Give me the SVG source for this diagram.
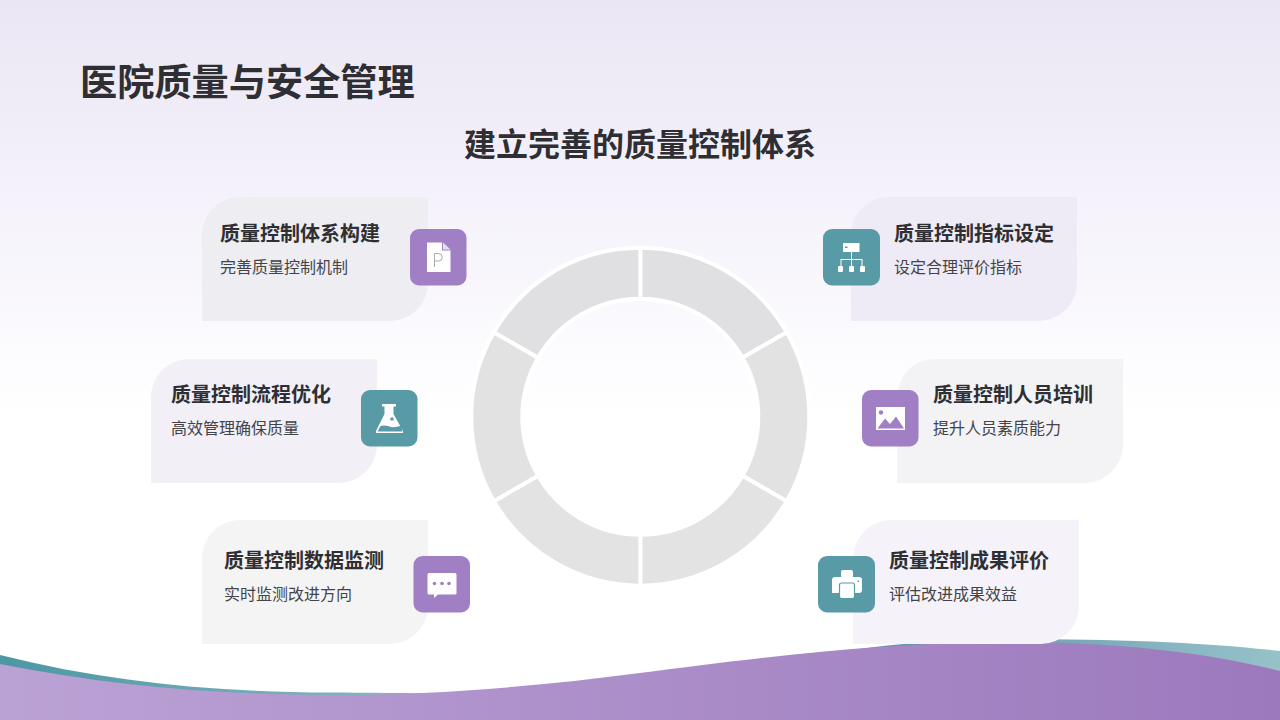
<svg xmlns="http://www.w3.org/2000/svg" width="1280" height="720" viewBox="0 0 1280 720">
<style>
text{font-family:"Noto Sans CJK SC","Liberation Sans",sans-serif;fill:#2f2f33}
.h{font-size:20px;font-weight:700}
.s{font-size:16px;fill:#444448}
.p{fill:#a07fc4}.t{fill:#589aa5}
.w{fill:#fff}
.seg{stroke:#fff;stroke-width:4}
</style>
<defs>
<linearGradient id="bg" x1="0" y1="0" x2="0" y2="1"><stop offset="0" stop-color="#ebe6f3"/><stop offset=".28" stop-color="#f5f2fb"/><stop offset=".58" stop-color="#fff"/><stop offset="1" stop-color="#fff"/></linearGradient>
<linearGradient id="wp" x1="0" y1="0" x2="1" y2="0"><stop offset="0" stop-color="#bba2d5"/><stop offset="1" stop-color="#9c79bd"/></linearGradient>
<linearGradient id="wt" x1="0" y1="0" x2="1" y2="0"><stop offset="0" stop-color="#4c97a4"/><stop offset=".3" stop-color="#84b4bf"/><stop offset=".68" stop-color="#5e8fa8"/><stop offset="1" stop-color="#96c2c9"/></linearGradient>
</defs>
<rect width="1280" height="720" fill="url(#bg)"/>
<g id="wave">
<path d="M0 655C110 683 220 692 330 692.500C400 693 430 693 470 695L640 700L800 680L850 650C900 643.500 950 639 1007 639C1110 639 1200 642 1280 651V720H0Z" fill="url(#wt)"/>
<path d="M0 664C110 686 220 695 330 695C440 695 540 686 640 673C740 660 880 642 1007 642C1110 642 1200 651 1280 671V720H0Z" fill="url(#wp)"/>
</g>
<g id="connectors"></g>
<text x="80" y="96" style="font-size:37.200px;font-weight:700">医院质量与安全管理</text>
<text x="640" y="156" text-anchor="middle" style="font-size:32px;font-weight:700">建立完善的质量控制体系</text>
<g id="ring" class="seg">
<path fill="#e0e0e2" d="M640.300 247.700A169 169 0 0 1 786.700 332.200L742.500 357.700A118 118 0 0 0 640.300 298.700Z"/>
<path fill="#e2e2e3" d="M786.700 332.200A169 169 0 0 1 786.700 501.200L742.500 475.700A118 118 0 0 0 742.500 357.700Z"/>
<path fill="#e3e3e3" d="M786.700 501.200A169 169 0 0 1 640.300 585.700V534.700A118 118 0 0 0 742.500 475.700Z"/>
<path fill="#e3e3e3" d="M640.300 585.700A169 169 0 0 1 493.900 501.200L538.100 475.700A118 118 0 0 0 640.300 534.700Z"/>
<path fill="#e2e2e3" d="M493.900 501.200A169 169 0 0 1 493.900 332.200L538.100 357.700A118 118 0 0 0 538.100 475.700Z"/>
<path fill="#e0e0e2" d="M493.900 332.200A169 169 0 0 1 640.300 247.700V298.700A118 118 0 0 0 538.100 357.700Z"/>
</g>
<g id="node-1">
<path d="M240 197H428V283A38 38 0 0 1 390 321H202V235A38 38 0 0 1 240 197Z" fill="#eeedf2"/>
<text class="h" x="220" y="241">质量控制体系构建</text>
<text class="s" x="220" y="273">完善质量控制机制</text>
<rect class="p" x="410" y="229" width="56.500" height="56.500" rx="9"/>
<path class="w" d="M427 242.500H442V250.500H450.500V272H427Z"/>
<path d="M443 242.500L450.500 249.500H443Z" fill="#e6dff0"/>
<path d="M434.500 267V253.500H438.500A3.700 3.700 0 0 1 438.500 261H434.500" fill="none" stroke="#a9a9ad" stroke-width="1"/>
</g>
<g id="node-2">
<path d="M889 197H1077V283A38 38 0 0 1 1039 321H851V235A38 38 0 0 1 889 197Z" fill="#efebf6"/>
<text class="h" x="894" y="241">质量控制指标设定</text>
<text class="s" x="894" y="273">设定合理评价指标</text>
<rect class="t" x="823" y="229" width="57" height="56.500" rx="9"/>
<path class="w" d="M843 243H859.500V252H843ZM851 252H852V259H862.500V266H861.500V260H852V266H851V260H841.500V266H840.500V259H851Z"/>
<path class="w" d="M838 267a1 1 0 0 1 1-1h3a1 1 0 0 1 1 1v4a1 1 0 0 1-1 1h-3a1 1 0 0 1-1-1ZM849 267a1 1 0 0 1 1-1h3a1 1 0 0 1 1 1v4a1 1 0 0 1-1 1h-3a1 1 0 0 1-1-1ZM860 267a1 1 0 0 1 1-1h3a1 1 0 0 1 1 1v4a1 1 0 0 1-1 1h-3a1 1 0 0 1-1-1Z"/>
<rect class="t" x="845" y="246.500" width="2.500" height="1.500"/>
</g>
<g id="node-3">
<path d="M189 359H377V445A38 38 0 0 1 339 483H151V397A38 38 0 0 1 189 359Z" fill="#f2eff7"/>
<text class="h" x="171" y="402">质量控制流程优化</text>
<text class="s" x="171" y="434">高效管理确保质量</text>
<rect class="t" x="361" y="390" width="56.500" height="56.500" rx="9"/>
<path class="w" d="M382 404H396V406.500H393.500V414L403 431V433H376V431L384.500 414V406.500H382Z"/>
<path class="t" d="M377.500 431.500L380.500 426C386 424 390 428 395 427C398 426.500 400 426 401 426L402.500 431.500Z"/>
<circle class="t" cx="392" cy="419" r="1.800"/>
</g>
<g id="node-4">
<path d="M935 359H1123V445A38 38 0 0 1 1085 483H897V397A38 38 0 0 1 935 359Z" fill="#f3f3f5"/>
<text class="h" x="933" y="402">质量控制人员培训</text>
<text class="s" x="933" y="434">提升人员素质能力</text>
<rect class="p" x="862" y="390" width="56.500" height="56.500" rx="9"/>
<rect class="w" x="876" y="407" width="29" height="23"/>
<circle class="p" cx="881" cy="412.500" r="2.200"/>
<path class="p" d="M877.500 428.500L885 418.500L890 424L896 416.500L904 428.500Z"/>
</g>
<g id="node-5">
<path d="M240 520H428V606A38 38 0 0 1 390 644H202V558A38 38 0 0 1 240 520Z" fill="#f4f4f5"/>
<text class="h" x="224" y="568">质量控制数据监测</text>
<text class="s" x="224" y="600">实时监测改进方向</text>
<rect class="p" x="413.500" y="556" width="56.500" height="56.500" rx="9"/>
<path class="w" d="M429 573H455A1.500 1.500 0 0 1 456.500 574.500V593A1.500 1.500 0 0 1 455 594.500H438L434 598V594.500H429A1.500 1.500 0 0 1 427.500 593V574.500A1.500 1.500 0 0 1 429 573Z"/>
<circle class="p" cx="434.500" cy="583.500" r="1.800"/><circle class="p" cx="442" cy="583.500" r="1.800"/><circle class="p" cx="449" cy="583.500" r="1.800"/>
</g>
<g id="node-6">
<path d="M891 520H1079V606A38 38 0 0 1 1041 644H853V558A38 38 0 0 1 891 520Z" fill="#f5f3f9"/>
<text class="h" x="889" y="568">质量控制成果评价</text>
<text class="s" x="889" y="600">评估改进成果效益</text>
<rect class="t" x="818" y="556" width="57" height="56.500" rx="9"/>
<rect class="w" x="841" y="570" width="12" height="8" rx="2"/>
<path class="w" d="M835 577H859A3 3 0 0 1 862 580V590A3 3 0 0 1 859 593H832V580A3 3 0 0 1 835 577Z"/>
<rect class="w" x="839.500" y="583" width="15" height="15.500" rx="2" stroke="#589aa5" stroke-width="1.200"/>
<rect class="t" x="857.500" y="580.500" width="1.500" height="1.500"/>
</g>
</svg>
